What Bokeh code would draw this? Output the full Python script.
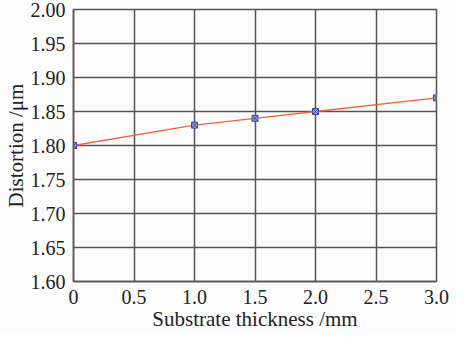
from bokeh.plotting import figure
from bokeh.models import FixedTicker, Range1d
from bokeh.embed import file_html
from bokeh.resources import INLINE

thickness = [0.0, 1.0, 1.5, 2.0, 3.0]
distortion = [1.80, 1.83, 1.84, 1.85, 1.87]
x_ticks = [0, 0.5, 1.0, 1.5, 2.0, 2.5, 3.0]
x_labels = ["0", "0.5", "1.0", "1.5", "2.0", "2.5", "3.0"]
y_ticks = [1.60, 1.65, 1.70, 1.75, 1.80, 1.85, 1.90, 1.95, 2.00]
y_labels = ["%.2f" % v for v in y_ticks]

p = figure(width=456, height=333, output_backend="svg", toolbar_location=None,
           x_range=Range1d(0, 3.0), y_range=Range1d(1.60, 2.00),
           min_border_left=69, min_border_right=20, min_border_top=9, min_border_bottom=40)
p.background_fill_color = "#fcfcfc"
p.border_fill_color = "#fcfcfc"
p.outline_line_color = "#5a5250"
p.outline_line_width = 1.5

font = "Liberation Serif"
for ax, ticks, labels, lab in ((p.xaxis[0], x_ticks, x_labels, "Substrate thickness /mm"),
                               (p.yaxis[0], y_ticks, y_labels, "Distortion /\u03bcm")):
    ax.ticker = FixedTicker(ticks=ticks)
    ax.major_label_overrides = {t: l for t, l in zip(ticks, labels)}
    ax.axis_label = lab
    ax.axis_label_text_font = font
    ax.axis_label_text_font_style = "normal"
    ax.axis_label_text_font_size = "21px"
    ax.axis_label_text_color = "#222222"
    ax.major_label_text_font = font
    ax.major_label_text_font_size = "20px"
    ax.major_label_text_color = "#222222"
    ax.axis_line_color = "#5a5250"
    ax.axis_line_width = 1.5
    ax.major_tick_line_color = None
    ax.minor_tick_line_color = None
    ax.axis_label_standoff = 0
    ax.major_label_standoff = 2

for g in (p.xgrid[0], p.ygrid[0]):
    g.grid_line_color = "#5a5250"
    g.grid_line_width = 1.5
    g.grid_line_alpha = 1.0

p.line(thickness, distortion, line_color="#f0643c", line_width=1.3)
p.scatter(thickness, distortion, marker="square_x", size=6, fill_color="#8da0e0",
          line_color="#3a4aa0", line_width=1)

open("out.html", "w").write(file_html(p, INLINE))
